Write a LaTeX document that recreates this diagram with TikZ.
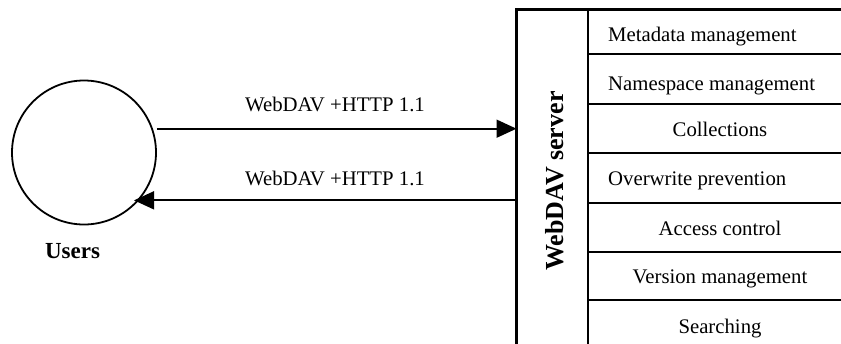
\documentclass[tikz,border=0pt]{standalone}
\usepackage{fontspec}
\setmainfont{Liberation Serif}
\usetikzlibrary{arrows.meta}
\begin{document}
\begin{tikzpicture}[x=1pt,y=-1pt,
  lbl/.style={font=\fontsize{20.75}{24}\selectfont, inner sep=0pt},
  box/.style={draw, line width=2.1pt, inner sep=0pt, outer sep=0pt, anchor=north west},
  arr/.style={line width=1.7pt, -{Triangle[length=20pt,width=18pt]}}]
\useasboundingbox (0,0) rectangle (841,343);
\clip (0,0) rectangle (841,343);
% users
\node[draw, circle, line width=1.8pt, minimum size=144pt, inner sep=0pt] (users) at (84,152.5) {};
\node[anchor=base, inner sep=0pt, font=\bfseries\fontsize{23}{26}\selectfont] (userslbl) at (72.5,258) {Users};
% server
\node[box, minimum width=71.5pt, minimum height=360pt] (srv) at (516.5,9.5) {};
\node[rotate=90, anchor=base, inner sep=0pt, font=\bfseries\fontsize{26}{30}\selectfont] (srvlbl) at (563,181) {WebDAV server};
\node[box, minimum width=280pt, minimum height=44.5pt] (r1) at (588,9.5) {};
\node[box, minimum width=280pt, minimum height=50pt] (r2) at (588,54) {};
\node[box, minimum width=280pt, minimum height=49pt] (r3) at (588,104) {};
\node[box, minimum width=280pt, minimum height=50pt] (r4) at (588,153) {};
\node[box, minimum width=280pt, minimum height=49pt] (r5) at (588,203) {};
\node[box, minimum width=280pt, minimum height=48pt] (r6) at (588,252) {};
\node[box, minimum width=280pt, minimum height=60pt] (r7) at (588,300) {};
\node[lbl, anchor=base west] (t1) at (608,41.7) {Metadata management};
\node[lbl, anchor=base west] (t2) at (608,90) {Namespace management};
\node[lbl, anchor=base] (t3) at (720,136.7) {Collections};
\node[lbl, anchor=base west] (t4) at (608,185) {Overwrite prevention};
\node[lbl, anchor=base] (t5) at (720,235) {Access control};
\node[lbl, anchor=base] (t6) at (720,283) {Version management};
\node[lbl, anchor=base] (t7) at (720,333) {Searching};
% arrows
\path (users.east) ++(0,-23.8) coordinate (a1);
\draw[arr] (a1) -- (a1 -| srv.west);
\draw[arr] (users.-41.3 -| srv.west) -- ([xshift=-5pt]users.-41.3);
\node[lbl, anchor=base] (l1) at (335,111.7) {WebDAV +HTTP 1.1};
\node[lbl, anchor=base] (l2) at (335,185) {WebDAV +HTTP 1.1};
\end{tikzpicture}
\end{document}
